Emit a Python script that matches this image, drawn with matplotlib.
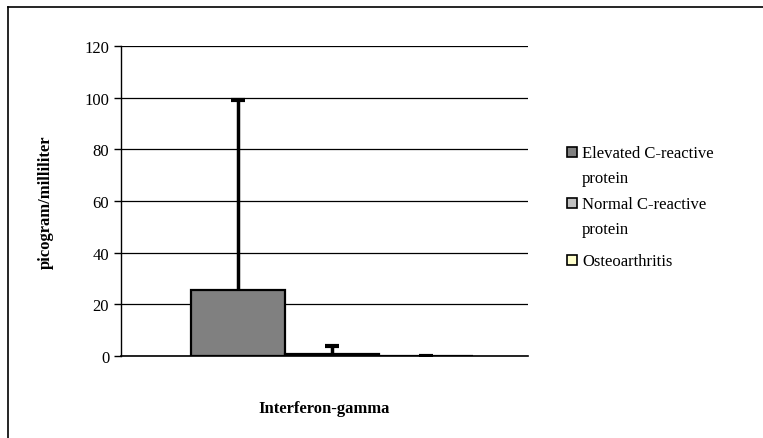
import matplotlib.pyplot as plt
from matplotlib.lines import Line2D
from matplotlib.patches import Rectangle

categories = ["Interferon-gamma"]
series_names = ["Elevated C-reactive\nprotein", "Normal C-reactive\nprotein", "Osteoarthritis"]
means = [25.5, 0.8, 0.05]
upper_err = [73.5, 3.1, 0.1]
colors = ["#808080", "#C0C0C0", "#FFFFCC"]
y_ticks = [0, 20, 40, 60, 80, 100, 120]

plt.rcParams["font.family"] = ["Liberation Serif", "DejaVu Serif"]

W, H = 763, 439
fig = plt.figure(figsize=(W / 100, H / 100), dpi=100)
ax = fig.add_axes([121 / W, 1 - 357 / H, 407 / W, 310 / H])

width = 0.231
offsets = [-0.2125, 0.0185, 0.2495]
for i, name in enumerate(series_names):
    ax.bar(offsets[i], means[i], width=width, color=colors[i], edgecolor="black",
           linewidth=1.6, label=name, zorder=3)
    _, caps, _ = ax.errorbar(offsets[i], means[i], yerr=[[0], [upper_err[i]]], fmt="none",
                             ecolor="black", elinewidth=2.5, capsize=5, capthick=3, zorder=4)
    # Excel draws only the upper ("plus") cap
    if len(caps) > 1:
        caps[0].set_visible(False)

ax.set_xlim(-0.5, 0.5)
ax.set_ylim(0, 120)
ax.set_yticks(y_ticks)
ax.set_xticks([])
ax.yaxis.grid(True, color="black", linewidth=0.9, zorder=0)
ax.tick_params(axis="y", labelsize=12, length=5, width=1, colors="black")
for s in ["top", "right"]:
    ax.spines[s].set_visible(False)
ax.spines["left"].set_linewidth(1)
ax.spines["bottom"].set_linewidth(1.2)
ax.set_ylabel("picogram/milliliter", fontsize=12, fontweight="bold", labelpad=22)
ax.set_xlabel(categories[0], fontsize=12, fontweight="bold", labelpad=32)

# legend drawn by hand so the swatch sits on the first text line, like Excel
legend_rows = [153, 204, 261]
for name, color, yr in zip(series_names, colors, legend_rows):
    fig.add_artist(Rectangle(((567) / W, 1 - (yr + 5) / H), 10 / W, 10 / H,
                             facecolor=color, edgecolor="black", linewidth=1.2,
                             transform=fig.transFigure))
    fig.text(582 / W, 1 - (yr - 7) / H, name, fontsize=12, va="top", ha="left",
             linespacing=1.75)

# outer chart frame (top and left edges visible)
fig.add_artist(Line2D([8 / W, 8 / W], [0, 1 - 8 / H], color="black", linewidth=1.2,
                      transform=fig.transFigure))
fig.add_artist(Line2D([8 / W, 1], [1 - 8 / H, 1 - 8 / H], color="black", linewidth=1.2,
                      transform=fig.transFigure))

fig.savefig("out.png", dpi=100)
